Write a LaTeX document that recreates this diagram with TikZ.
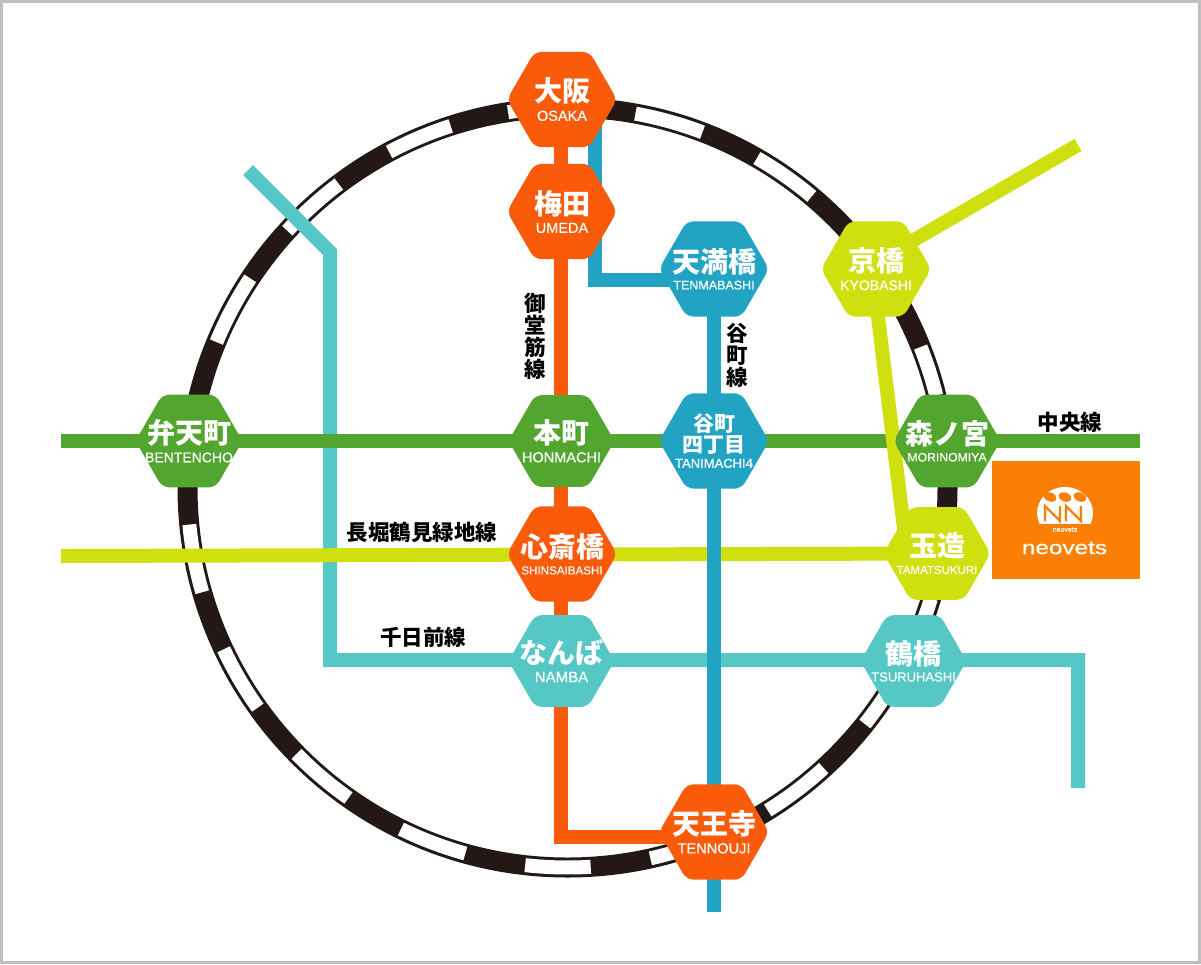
\documentclass[tikz,border=0pt]{standalone}
\usepackage{fontspec}
\usepackage{tikz}
\usetikzlibrary{calc,shapes.geometric}
\setmainfont[FakeBold=0.5]{Liberation Sans}
\newfontfamily\jpfont{Noto Sans CJK JP}
\newfontfamily\widefont[FakeStretch=1.28,FakeBold=0.8]{Liberation Sans}
\definecolor{midosuji}{HTML}{FA5B0A}
\definecolor{tanimachi}{HTML}{23A3C3}
\definecolor{chuo}{HTML}{52A52F}
\definecolor{nagahori}{HTML}{CFE00E}
\definecolor{sennichi}{HTML}{55C7C5}
\definecolor{loopline}{HTML}{231815}
\definecolor{neoorange}{HTML}{FB7F04}
\newcommand{\kj}{\jpfont\bfseries\fontsize{28}{27}\selectfont}
\newcommand{\kjs}{\jpfont\bfseries\fontsize{21}{23}\selectfont}
\newcommand{\rn}[1]{\fontsize{#1}{14}\selectfont}
\tikzset{
  hexa/.style={shape=regular polygon,regular polygon sides=6,
    minimum size=110pt,inner sep=-40pt,rounded corners=7pt,text=white,align=center},
  rail/.style={line width=14pt},
  linename/.style={font=\jpfont\bfseries\fontsize{21.5}{22}\selectfont,align=center,inner sep=0pt}
}

\begin{document}
\begin{tikzpicture}[x=1pt,y=-1pt]
\useasboundingbox (0,0) rectangle (1201,964);
\fill[white] (0,0) rectangle (1201,964);
\draw[line width=3pt,color=black!25] (1.5,1.5) rectangle (1199.5,962.5);
% loop line
\coordinate (ringc) at (567.5,487.5);
\draw[loopline,line width=20pt] (ringc) circle[radius=380];
\foreach \a/\b in {-99/-89,-79.7/-69.2,-60.1/-50,-21.7/-14,17/38.5,47.6/58.2,68/77.4,
  86.5/96.4,105.6/116,125.2/135.5,144.6/154.8,164/174.4,202.5/213.4,222.5/233,242/252.1}
  \draw[white,line width=14pt] (ringc) ++(\a:380) arc[start angle=\a,end angle=\b,radius=380];
% stations
\coordinate (kyoend) at (1078,145);
\coordinate (chuow) at (61,441);
\coordinate (chuoe) at (1140,441);
\coordinate (nagaw) at (61,556);
\coordinate (senn) at (248,170);
\coordinate (senb) at (330,252);
\coordinate (senc) at (330,660);
\coordinate (send) at (1078,660);
\coordinate (sene) at (1078,788);
\coordinate (midoc) at (561,837);
\coordinate (tanib) at (594.5,280);
\coordinate (tanis) at (713.5,912);
\draw[rail,sennichi] (senn) -- (senb) -- (senc) -- (send) -- (sene);
\draw[rail,chuo] (chuow) -- (chuoe);
\draw[rail,nagahori] (nagaw) -- (937,553.5);
\draw[rail,nagahori] ($(876,269)+(0,-7)$) -- (kyoend);
\draw[rail,nagahori] (872,268) -- (907,553);
\draw[rail,midosuji] (561,99) -- (midoc) -- (714,837);
\draw[rail,tanimachi] (594.5,99) -- (tanib) -- (713.5,280) -- (tanis);
\node[hexa,fill=midosuji] (osaka) at (562,99.5) {\kj 大阪\\[5pt]\rn{14.5}OSAKA};
\node[hexa,fill=midosuji] (umeda) at (562,211.5) {\kj 梅田\\[5pt]\rn{14.5}UMEDA};
\node[hexa,fill=tanimachi] (tenmabashi) at (714,269) {\kj 天満橋\\[5pt]\rn{12.5}TENMABASHI};
\node[hexa,fill=nagahori] (kyobashi) at (876,269) {\kj 京橋\\[5pt]\rn{14}KYOBASHI};
\node[hexa,fill=chuo,minimum size=107pt] (bentencho) at (189,441) {\kj 弁天町\\[5pt]\rn{14}BENTENCHO};
\node[hexa,fill=chuo,minimum size=106pt] (honmachi) at (561.5,441) {\kj 本町\\[5pt]\rn{14.5}HONMACHI};
\node[hexa,fill=tanimachi] (tanimachi4) at (714,441) {\kjs 谷町\\[1pt]\kjs 四丁目\\[3pt]\rn{13}TANIMACHI4};
\node[hexa,fill=chuo,minimum size=107pt] (morinomiya) at (947,441) {\kj 森ノ宮\\[5pt]\rn{12.2}MORINOMIYA};
\node[hexa,fill=midosuji] (shinsaibashi) at (562,554) {\kj 心斎橋\\[5pt]\rn{11.6}SHINSAIBASHI};
\node[hexa,fill=nagahori,minimum size=107pt] (tamatsukuri) at (937,553.5) {\kj 玉造\\[5pt]\rn{11.5}TAMATSUKURI};
\node[hexa,fill=sennichi,minimum size=106pt] (namba) at (561.5,661) {\kj なんば\\[5pt]\rn{15}NAMBA};
\node[hexa,fill=sennichi,minimum size=106pt] (tsuruhashi) at (913.5,661) {\kj 鶴橋\\[5pt]\rn{13}TSURUHASHI};
\node[hexa,fill=midosuji] (tennouji) at (714,832) {\kj 天王寺\\[5pt]\rn{14.6}TENNOUJI};
% line names
\node[linename] (midolabel) at (535,336.5) {御\\堂\\筋\\線};
\node[linename] (tanilabel) at (737,355) {谷\\町\\線};
\node[linename] (chuolabel) at (1070,422) {中央線};
\node[linename] (nagalabel) at (422,532) {長堀鶴見緑地線};
\node[linename] (senlabel) at (423,637) {千日前線};
% logo
\node[fill=neoorange,inner sep=0pt,minimum width=148pt,minimum height=118pt] (neobox) at (1066,520) {};
\begin{scope}
\clip (1030,480) rectangle (1100,523);
\fill[white] (1065,513) ellipse[x radius=28,y radius=26];
\end{scope}
\foreach \hx/\ang in {1050/20,1065/20,1080/20}
  \fill[neoorange,rotate around={-\ang:(\hx,497)}] (\hx,497) ellipse[x radius=6.5,y radius=4.5];
\foreach \hx in {1045,1066}
  \draw[neoorange,line width=2.4pt] (\hx,521) -- (\hx,506) -- (\hx+15,521) -- (\hx+15,506);
\node[text=white,font=\fontsize{7}{7}\selectfont,inner sep=0pt] (neosmall) at (1065,529.5) {neovets};
\node[text=white,font=\widefont\fontsize{19}{19}\selectfont,inner sep=0pt] (neotext) at (1064.5,548) {neovets};
\end{tikzpicture}
\end{document}
